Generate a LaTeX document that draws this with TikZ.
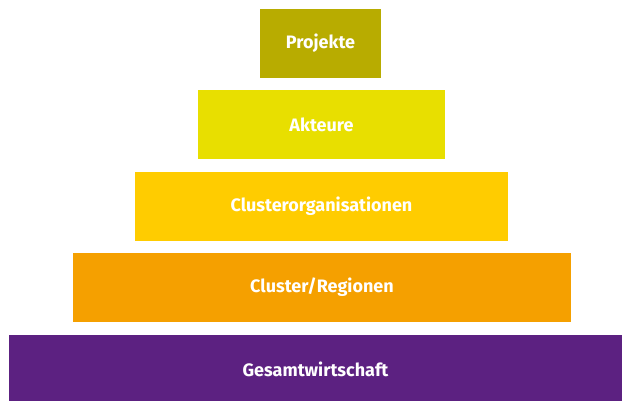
\documentclass[tikz,border=0pt]{standalone}
\usepackage{fontspec}
\setmainfont{Fira Sans}
\definecolor{projekte}{HTML}{B8AC00}
\definecolor{akteure}{HTML}{E8DF00}
\definecolor{clusterorg}{HTML}{FFCC00}
\definecolor{regionen}{HTML}{F5A000}
\definecolor{gesamt}{HTML}{5C2181}
\tikzset{
  layer/.style={rectangle, inner sep=0pt, minimum height=69pt, text=white,
    font=\fontsize{18}{21}\selectfont\bfseries}
}
\begin{document}
\begin{tikzpicture}[x=1pt, y=-1pt]
        \useasboundingbox (0,0) rectangle (622,400);
        % Layers, top to bottom
        \node[layer, fill=projekte,   minimum width=121pt] at (320.5, 43.5)  (proj)   {Projekte};
        \node[layer, fill=akteure,    minimum width=247pt] at (321.5, 124.5) (akt)    {Akteure};
        \node[layer, fill=clusterorg, minimum width=373pt] at (321.5, 206.5) (corg)   {Clusterorganisationen};
        \node[layer, fill=regionen,   minimum width=498pt] at (322, 287.5)   (reg)    {Cluster/Regionen};
        \node[layer, fill=gesamt,     minimum width=613pt] at (315.5, 369)   (gesamt) {Gesamtwirtschaft};
    \end{tikzpicture}
\end{document}
